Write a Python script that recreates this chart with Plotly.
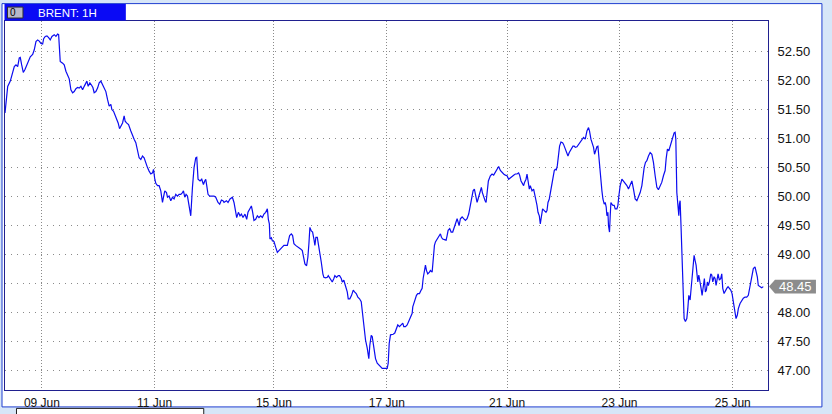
import plotly.graph_objects as go

# ---------------- data ----------------
symbol = "BRENT"
timeframe = "1H"

bars = [
    0, 1, 2.7, 5.3, 7, 9.3, 11, 12.7, 14.3, 15.3, 16.7, 18.3, 20, 22, 23.3, 25.3, 27.7, 29.3, 31, 32.7,
    34.3, 36, 37.7, 38.7, 40.3, 42, 43.7, 45.3, 47, 49.3, 51, 52.7, 53.7, 54.7, 55.3, 57.7, 59.3, 61, 62.7, 64.3,
    66, 67.7, 69.3, 71, 72.7, 74.3, 76, 77.7, 79.3, 81, 82, 83.3, 85, 86.7, 88, 89.3, 91, 92.7, 94.3, 96,
    97.7, 99.3, 101, 102.7, 104.3, 106, 107, 108.7, 110.3, 112, 113.3, 114.7, 116, 117.7, 119.3, 120.3, 121.7, 123.7, 126, 127.7,
    129.3, 131, 132.7, 134.3, 136, 137.7, 139.3, 141, 142.7, 144.3, 146, 147.7, 148.7, 150, 151, 152.7, 154.3, 156, 157.7, 158.7,
    160, 161.7, 162.7, 164.3, 166, 167.7, 169.3, 171, 172.7, 174.3, 176, 177.7, 178.7, 180, 181.3, 182.7, 184.3, 186,
    187.7, 189.3, 191, 192, 193.3, 195.3, 197, 198.7, 200, 201, 202, 203.3, 205, 206.7, 209.3, 211, 213.3, 215, 216.7, 218.3,
    219.3, 221.7, 223.3, 225.3, 227.7, 229.3, 231, 232, 233.7, 235.3, 236.7, 238.3, 240.3, 242, 243.3, 245.3, 246.7, 248, 249.3, 251,
    252.7, 254.3, 256, 257.7, 259.3, 261, 262.7, 263.7, 264.7, 265.3, 266.7, 267.7, 269.3, 271, 272.7, 274.3, 276, 277.7, 279.3, 281,
    282.7, 285, 286.7, 288, 289.3, 291, 292.7, 294.3, 296, 297.7, 298.7, 300.3, 302, 303.3, 304.3, 305.3, 306.7, 308, 309.3, 310.3,
    311.3, 312.7, 313.7, 315, 316.7, 318.3, 319.3, 321, 322.7, 323.7, 325.3, 326.7, 327.7, 329.3, 330.3, 332, 333.7, 335, 336.7, 337.7,
    339.3, 340.3, 341.7, 342.7, 343.7, 345.3, 347, 348.7, 350, 351.7, 353.3, 355, 356.7, 357.7, 358.7, 360, 361, 362.7, 364.3, 365.3,
    366.7, 367.7, 368.7, 370, 371, 372.7, 374.3, 376, 377.7, 379.3, 381, 382.7, 383.7, 384.7,
    386, 388.7, 390.3, 392, 393.3, 395, 396.7, 398.3, 399.3, 401, 402.7, 404.3, 406, 407.7, 408.3, 409.3, 411, 412, 413.3, 415,
    416.7, 417.7, 418.7, 420, 421, 422, 423.3, 425, 426, 427.7, 428.7, 430, 431, 432.7, 434.3, 436, 437, 438.3, 440, 441.7,
    442.7, 443.7, 445.3, 446.7, 448.3, 449.3, 451, 452.7, 453.7, 454.7, 456, 457.7, 459.3, 461, 462.7, 464.3, 465.3, 466.7, 467.7, 468.7,
    470, 471.3, 472.7, 473.7, 475, 476, 477, 478, 479.3, 480.7, 481.7, 482.7, 484, 486, 487.7, 489.3, 491, 492.7, 494.3, 496,
    497.7, 499.3, 501, 502.7, 504.3, 506, 507.7, 509.3, 511, 512.7, 514.3, 515.3, 516.7, 518.3, 519.3, 520.3, 521.7, 522.7, 523.7, 525,
    526, 527.7, 529.3, 530.3, 531.7, 532.7, 533.7, 535, 536, 537, 538.3, 540, 541.7, 542.7, 543.7, 545, 546, 547, 548, 549,
    550, 551, 552, 553, 554.3, 555.3, 556.7, 558.3, 559.3, 561, 562.7, 563.7, 565, 566.7, 568.7, 570,
    571, 572.7, 574.3, 576, 577.7, 579.3, 581, 582.7, 584.3, 585.3, 586.7, 587.7, 589.3, 590.3, 591.7, 592.7, 593.7, 594.7, 596, 597,
    597.7, 598.7, 600, 601, 602, 602.7, 603.7, 604.3, 605.3, 606, 606.7, 607.7, 608.7, 610, 611, 612.7, 613.7, 614.7, 616, 617.7,
    619.3, 621, 622.7, 624.3, 626, 627.7, 629.3, 631, 632.7, 634.3, 636, 637.7, 638.7, 640, 641.3, 642.7, 644.3, 646, 647.7, 649.3,
    651, 652.7, 654.3, 656, 657.7, 659.3, 661, 662, 663.3, 664.7, 666, 667.7, 668.7, 670, 671, 671.7, 672.7, 673.3, 674, 674.7,
    675.3, 676, 677, 677.7, 678.7, 679.3, 680, 681.3, 682.7, 683.7, 684.7, 686, 687, 688, 689.3, 690, 691, 692, 692.7, 693.7,
    694.7, 696, 697, 698, 699.3, 700.3, 701.3, 702.3, 703.3, 704.3, 705.3, 706.7, 707.7, 708.7, 710, 711, 712, 712.7, 714, 715.3,
    716.7, 717.7, 718.7, 720, 721.3, 722.7, 724, 725.3, 726.7, 728, 729.3, 730.7, 732, 733.3, 734.3, 736, 737.7, 739.3, 741, 742.7,
    744.3, 746, 747.7, 749.3, 751, 752, 753.3, 754.3, 756, 757.7, 759.3,
]

prices = [
    51.44, 51.59, 51.90, 51.99, 52.10, 52.24, 52.27, 52.24, 52.39, 52.40, 52.27, 52.14, 52.19, 52.27, 52.33, 52.41, 52.45, 52.53, 52.67, 52.70,
    52.68, 52.64, 52.63, 52.72, 52.76, 52.77, 52.74, 52.70, 52.76, 52.79, 52.76, 52.80, 52.79, 52.50, 52.33, 52.30, 52.27, 52.16, 52.10, 52.03,
    51.84, 51.79, 51.81, 51.86, 51.88, 51.87, 51.90, 51.84, 51.90, 51.96, 51.99, 51.90, 51.96, 51.92, 51.88, 51.79, 51.81, 51.87, 51.96, 51.99,
    51.93, 51.87, 51.81, 51.67, 51.56, 51.59, 51.50, 51.47, 51.41, 51.33, 51.27, 51.17, 51.21, 51.27, 51.39, 51.30, 51.27, 51.24, 51.13, 51.04,
    50.99, 50.93, 50.81, 50.67, 50.64, 50.70, 50.67, 50.56, 50.50, 50.44, 50.39, 50.41, 50.47, 50.30, 50.23, 50.19, 50.19, 50.10, 49.90, 49.99,
    50.10, 50.07, 49.99, 50.01, 49.93, 49.99, 49.96, 50.04, 50.01, 50.04, 50.04, 50.07, 50.10, 49.99, 50.04, 50.01, 49.84, 49.67,
    50.16, 50.50, 50.67, 50.68, 50.30, 50.27, 50.30, 50.21, 50.27, 50.30, 50.19, 50.04, 50.01, 50.01, 50.01, 49.99, 49.90, 49.87, 49.94, 49.93,
    49.90, 49.93, 49.90, 49.96, 49.99, 49.90, 49.70, 49.64, 49.73, 49.67, 49.70, 49.64, 49.70, 49.61, 49.73, 49.79, 49.84, 49.73, 49.59, 49.61,
    49.67, 49.64, 49.67, 49.64, 49.70, 49.73, 49.79, 49.61, 49.53, 49.27, 49.29, 49.24, 49.23, 49.13, 49.04, 49.07, 49.10, 49.13, 49.16, 49.16,
    49.16, 49.33, 49.36, 49.33, 49.19, 49.16, 49.14, 49.13, 49.10, 49.07, 48.99, 48.84, 48.81, 48.96, 49.19, 49.47, 49.41, 49.39, 49.27, 49.16,
    49.30, 49.30, 49.19, 49.01, 48.87, 48.67, 48.61, 48.60, 48.61, 48.64, 48.59, 48.56, 48.53, 48.59, 48.64, 48.61, 48.64, 48.64, 48.59, 48.53,
    48.56, 48.50, 48.41, 48.36, 48.24, 48.24, 48.30, 48.39, 48.36, 48.33, 48.27, 48.24, 48.19, 48.04, 47.87, 47.64, 47.53, 47.39, 47.21, 47.44,
    47.61, 47.59, 47.47, 47.33, 47.21, 47.13, 47.10, 47.07, 47.04, 47.04, 47.04, 47.04, 47.13, 47.47,
    47.62, 47.63, 47.65, 47.73, 47.79, 47.76, 47.80, 47.82, 47.76, 47.76, 47.79, 47.85, 47.90, 47.99, 48.10, 48.16, 48.25, 48.30, 48.33, 48.33,
    48.39, 48.42, 48.59, 48.70, 48.82, 48.73, 48.67, 48.70, 48.73, 48.70, 48.93, 49.16, 49.22, 49.27, 49.30, 49.36, 49.30, 49.27, 49.26, 49.25,
    49.33, 49.42, 49.45, 49.39, 49.39, 49.45, 49.53, 49.62, 49.56, 49.50, 49.62, 49.65, 49.62, 49.59, 49.62, 49.70, 49.79, 49.90, 50.02, 50.10,
    50.13, 50.02, 49.90, 49.96, 50.05, 50.13, 50.16, 50.07, 49.99, 49.93, 49.90, 50.13, 50.27, 50.36, 50.39, 50.37, 50.42, 50.47, 50.52, 50.45,
    50.41, 50.39, 50.37, 50.36, 50.30, 50.33, 50.36, 50.37, 50.39, 50.39, 50.41, 50.37, 50.27, 50.22, 50.19, 50.25, 50.30, 50.39, 50.25, 50.13,
    50.19, 50.10, 50.13, 50.05, 49.96, 49.85, 49.73, 49.67, 49.53, 49.67, 49.79, 49.76, 49.73, 49.76, 49.90, 49.96, 50.07, 50.13, 50.25, 50.33,
    50.45, 50.47, 50.46, 50.53, 50.70, 50.87, 50.94, 50.93, 50.90, 50.82, 50.73, 50.70, 50.76, 50.82, 50.87, 50.87,
    50.85, 50.86, 50.90, 50.96, 51.00, 51.02, 50.99, 51.13, 51.19, 51.13, 50.99, 50.93, 50.85, 50.73, 50.83, 50.86, 50.87, 50.65, 50.50, 50.30,
    50.10, 49.96, 49.87, 49.90, 49.82, 49.67, 49.73, 49.50, 49.39, 49.67, 49.90, 49.87, 49.85, 49.85, 49.79, 49.79, 49.85, 50.02, 50.19, 50.30,
    50.27, 50.22, 50.19, 50.13, 50.22, 50.27, 50.13, 49.96, 49.93, 49.99, 50.07, 50.19, 50.36, 50.50, 50.59, 50.62, 50.70, 50.76, 50.73, 50.59,
    50.36, 50.16, 50.12, 50.19, 50.25, 50.36, 50.45, 50.65, 50.82, 50.79, 50.87, 50.96, 51.06, 51.10, 51.11, 50.99, 50.07, 49.90, 49.82, 49.67,
    49.87, 49.93, 49.45, 49.10, 48.65, 48.30, 47.90, 47.85, 47.90, 48.07, 48.30, 48.22, 48.42, 48.50, 48.76, 48.99, 48.90, 48.82, 48.70, 48.53,
    48.65, 48.47, 48.42, 48.30, 48.53, 48.59, 48.36, 48.39, 48.53, 48.47, 48.53, 48.67, 48.65, 48.53, 48.62, 48.59, 48.47, 48.53, 48.67, 48.56,
    48.59, 48.67, 48.42, 48.33, 48.39, 48.42, 48.45, 48.42, 48.39, 48.33, 48.19, 48.02, 47.90, 47.96, 48.07, 48.16, 48.22, 48.25, 48.27, 48.27,
    48.30, 48.45, 48.62, 48.76, 48.79, 48.73, 48.62, 48.47, 48.45, 48.43, 48.45,
]

date_ticks = [37, 149.7, 269.3, 382.3, 502.7, 615.3, 728.7]
date_labels = ["09 Jun", "11 Jun", "15 Jun", "17 Jun", "21 Jun", "23 Jun", "25 Jun"]
price_ticks = [47.0, 47.5, 48.0, 48.5, 49.0, 49.5, 50.0, 50.5, 51.0, 51.5, 52.0, 52.5]

# ---------------- layout geometry ----------------
W, H = 832, 414
L, R, T, B = 4, 64, 21, 22
PW, PH = W - L - R, H - T - B


def fx(px):
    return (px - L) / PW


def fy(py):
    return (H - B - py) / PH


last = prices[-1]
tick_text = ["" if abs(v - last) < 0.1 else f"{v:.2f}" for v in price_ticks]

LINE_BLUE = "#0c0cf0"
FRAME_BLUE = "#1f3fd0"
PLOT_BORDER = "#20208f"
GRID = "#8a8a8a"
OUTER = "#d7e6f8"
FONT = "Liberation Sans"

fig = go.Figure()
fig.add_trace(go.Scatter(
    x=bars, y=prices, mode="lines",
    line=dict(color=LINE_BLUE, width=1.2),
    hoverinfo="skip", showlegend=False,
))

shapes = [
    # white panel with blue frame
    dict(type="rect", xref="paper", yref="paper", layer="below",
         x0=fx(1), x1=fx(822), y0=fy(409), y1=fy(3.5),
         fillcolor="white", line=dict(color=FRAME_BLUE, width=1)),
    # title tab
    dict(type="rect", xref="paper", yref="paper",
         x0=fx(3.5), x1=fx(125), y0=fy(20.5), y1=fy(4),
         fillcolor="#0a0af5", line=dict(width=0)),
    # tab icon
    dict(type="rect", xref="paper", yref="paper",
         x0=fx(6.5), x1=fx(22), y0=fy(18), y1=fy(7),
         fillcolor="#b8b8c8", line=dict(color="#303030", width=1)),
    # scrollbar thumb at bottom
    dict(type="rect", xref="paper", yref="paper",
         x0=fx(15.5), x1=fx(203), y0=fy(418), y1=fy(410.5),
         fillcolor="white", line=dict(color="#202020", width=1)),
    # last price badge (arrow pointing at the axis)
    dict(type="path", xref="paper", yref="y",
         path=(f"M {fx(769)},{last} L {fx(775)},{last + 0.12} L {fx(816)},{last + 0.12} "
               f"L {fx(816)},{last - 0.12} L {fx(775)},{last - 0.12} Z"),
         fillcolor="#8c8c8c", line=dict(width=0)),
]

annotations = [
    dict(xref="paper", yref="paper", x=fx(35), y=fy(12.5), xanchor="left", yanchor="middle",
         text=f"{symbol}: {timeframe}", showarrow=False,
         font=dict(family=FONT, size=11.5, color="white")),
    dict(xref="paper", yref="paper", x=fx(12), y=fy(12.5), xanchor="center", yanchor="middle",
         text="0", showarrow=False, font=dict(family=FONT, size=10, color="black")),
    dict(xref="paper", yref="y", x=fx(796), y=last, xanchor="center", yanchor="middle",
         text=f"{last:.2f}", showarrow=False, font=dict(family=FONT, size=13, color="white")),
]

fig.update_layout(
    width=W, height=H, autosize=False,
    margin=dict(l=L, r=R, t=T, b=B, pad=0),
    paper_bgcolor=OUTER, plot_bgcolor="white",
    shapes=shapes, annotations=annotations,
    xaxis=dict(
        range=[0, 764], tickmode="array", tickvals=date_ticks, ticktext=date_labels,
        showgrid=True, gridcolor=GRID, gridwidth=1, griddash="1px,2px",
        showline=True, mirror=True, linecolor=PLOT_BORDER, linewidth=1,
        ticks="", ticklabelstandoff=2, zeroline=False,
        tickfont=dict(family=FONT, size=12, color="#111111"),
    ),
    yaxis=dict(
        range=[46.669, 53.026], side="right", tickmode="array",
        tickvals=price_ticks, ticktext=tick_text,
        showgrid=True, gridcolor=GRID, gridwidth=1, griddash="1px,5px",
        showline=True, mirror=True, linecolor=PLOT_BORDER, linewidth=1,
        ticks="", ticklabelstandoff=6, zeroline=False,
        tickfont=dict(family=FONT, size=13, color="#111111"),
    ),
)

fig.write_html("out.html", config={"displayModeBar": False},
               post_script="document.body.style.margin='0px';")
